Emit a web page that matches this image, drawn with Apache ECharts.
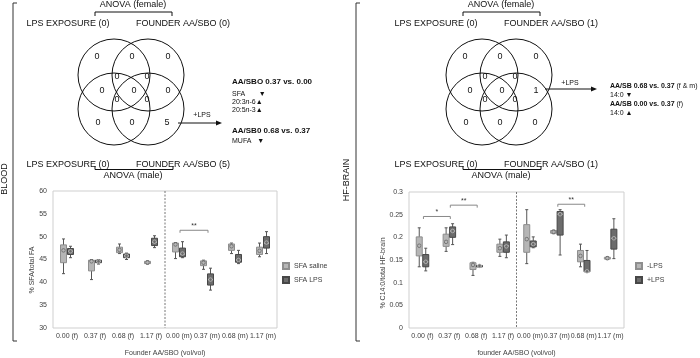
<!DOCTYPE html>
<html>
<head>
<meta charset="utf-8">
<script src="https://cdn.jsdelivr.net/npm/echarts@6/dist/echarts.min.js"></script>
<style>
  html, body { margin: 0; padding: 0; background: #fff; }
  #main { width: 700px; height: 358px; }
</style>
</head>
<body>
<div id="main"></div>
<script>
const FONT = '"Liberation Sans", Arial, sans-serif'

const categories = ['0.00 (f)', '0.37 (f)', '0.68 (f)', '1.17 (f)', '0.00 (m)', '0.37 (m)', '0.68 (m)', '1.17 (m)']

// each row: [min, q1, median, q3, max, mean]
const sfaSaline = [
  [41.9, 44.3, 47.0, 48.2, 49.5, 47.0],
  [40.6, 42.5, 44.5, 44.85, 45.0, 44.6],
  [46.3, 46.5, 47.1, 47.7, 48.4, 47.1],
  [44.0, 44.1, 44.35, 44.6, 44.7, 44.35],
  [45.2, 46.65, 48.3, 48.6, 48.7, 48.3],
  [42.85, 43.65, 44.3, 44.7, 44.85, 44.3],
  [46.3, 47.0, 47.9, 48.4, 48.6, 47.9],
  [45.6, 46.1, 46.8, 47.7, 48.6, 46.9]
]
const sfaLps = [
  [45.4, 46.1, 46.8, 47.4, 47.9, 46.8],
  [44.0, 44.3, 44.6, 44.85, 45.0, 44.6],
  [45.0, 45.4, 45.8, 46.2, 46.4, 45.8],
  [47.6, 48.05, 48.8, 49.65, 50.2, 48.9],
  [45.4, 45.6, 46.2, 47.5, 48.9, 46.3],
  [38.3, 39.4, 40.6, 41.85, 43.1, 40.6],
  [44.1, 44.4, 44.9, 46.1, 47.0, 44.9],
  [46.3, 47.5, 48.6, 50.0, 51.1, 48.7]
]
const c14Minus = [
  [0.135, 0.159, 0.181, 0.201, 0.221, 0.1815],
  [0.169, 0.180, 0.19, 0.207, 0.221, 0.19],
  [0.116, 0.129, 0.139, 0.144, 0.145, 0.139],
  [0.158, 0.167, 0.175, 0.185, 0.196, 0.176],
  [0.142, 0.167, 0.196, 0.228, 0.261, 0.196],
  [0.208, 0.209, 0.212, 0.215, 0.216, 0.212],
  [0.135, 0.146, 0.159, 0.171, 0.185, 0.159],
  [0.151, 0.152, 0.154, 0.156, 0.157, 0.154]
]
const c14Plus = [
  [0.126, 0.135, 0.146, 0.162, 0.176, 0.146],
  [0.184, 0.200, 0.214, 0.223, 0.230, 0.214],
  [0.135, 0.136, 0.137, 0.138, 0.139, 0.137],
  [0.155, 0.167, 0.181, 0.19, 0.205, 0.18],
  [0.177, 0.179, 0.185, 0.192, 0.201, 0.185],
  [0.161, 0.205, 0.251, 0.257, 0.261, 0.251],
  [0.124, 0.124, 0.125, 0.149, 0.171, 0.125],
  [0.153, 0.174, 0.198, 0.218, 0.241, 0.198]
]

// significance brackets: [from category, to category, height]
const sfaSig = [[4, 5, 51.4]]
const sfaSigMarks = ['**']
const c14Sig = [[0, 1, 0.246], [1, 2, 0.271], [5, 6, 0.273]]
const c14SigMarks = ['*', '**', '**']

// venn counts, region order: top row, upper triples, middle row, lower triples, bottom row
const bloodVenn = [0, 0, 0, 0, 0, 0, 0, 0, 0, 0, 0, 0, 5]
const brainVenn = [0, 0, 0, 0, 0, 0, 0, 1, 0, 0, 0, 0, 0]
const bloodVennLabels = ['LPS EXPOSURE (0)', 'FOUNDER AA/SBO (0)', 'LPS EXPOSURE (0)', 'FOUNDER AA/SBO (5)']
const brainVennLabels = ['LPS EXPOSURE (0)', 'FOUNDER AA/SBO (1)', 'LPS EXPOSURE (0)', 'FOUNDER AA/SBO (1)']

const countPos = [
  [97, 57], [132, 57], [168, 57],
  [117, 77], [147, 77],
  [102, 91], [134, 91], [168, 91],
  [117, 100], [147, 100],
  [98, 123], [132, 123], [167, 123]
]

function txt (x, y, text, size, opts) {
  opts = opts || {}
  const align = opts.align || 'center'
  return {
    type: 'text', x: x, y: y, rotation: opts.rotation || 0,
    style: {
      text: text, fontSize: size, fontFamily: FONT, fill: opts.fill || '#111',
      fontWeight: opts.bold ? 'bold' : 'normal',
      align: align, verticalAlign: 'middle', textAlign: align, textVerticalAlign: 'middle',
      rich: opts.rich
    }
  }
}

function venn (ox, counts, labels) {
  const els = []
  const centers = [[114, 75], [148, 75], [114, 109], [148, 109]]
  centers.forEach(c => {
    els.push({ type: 'circle', shape: { cx: c[0] + ox, cy: c[1], r: 36 }, style: { fill: 'none', stroke: '#111', lineWidth: 1 } })
  })
  countPos.forEach((p, i) => els.push(txt(p[0] + ox, p[1], String(counts[i]), 9)))
  els.push(txt(68 + ox, 24, labels[0], 9))
  els.push(txt(183 + ox, 24, labels[1], 9))
  els.push(txt(68 + ox, 165, labels[2], 9))
  els.push(txt(183 + ox, 165, labels[3], 9))
  els.push(txt(133 + ox, 4.5, 'ANOVA (female)', 9))
  els.push(txt(133 + ox, 176, 'ANOVA (male)', 9))
  els.push({ type: 'polyline', shape: { points: [[95 + ox, 16], [95 + ox, 12], [172 + ox, 12], [172 + ox, 16]] }, style: { fill: 'none', stroke: '#111', lineWidth: 1 } })
  els.push({ type: 'polyline', shape: { points: [[95 + ox, 166], [95 + ox, 169.5], [173 + ox, 169.5], [173 + ox, 166]] }, style: { fill: 'none', stroke: '#111', lineWidth: 1 } })
  return els
}

function arrow (x1, x2, y) {
  return [
    { type: 'line', shape: { x1: x1, y1: y, x2: x2 - 5, y2: y }, style: { stroke: '#111', lineWidth: 1 } },
    { type: 'polygon', shape: { points: [[x2, y], [x2 - 6, y - 2.5], [x2 - 6, y + 2.5]] }, style: { fill: '#111' } }
  ]
}

const richLeft = {
  r: { fontSize: 7, fontFamily: FONT, fill: '#111' },
  i: { fontSize: 7, fontStyle: 'italic', fontFamily: FONT, fill: '#111' }
}
const richRight = {
  b: { fontSize: 7, fontWeight: 'bold', fontFamily: FONT, fill: '#111' },
  r: { fontSize: 7, fontFamily: FONT, fill: '#111' }
}

const graphics = [].concat(
  // side brackets and panel titles
  { type: 'polyline', shape: { points: [[17, 3], [13, 3], [13, 341], [17, 341]] }, style: { fill: 'none', stroke: '#333', lineWidth: 1 } },
  { type: 'polyline', shape: { points: [[360, 3], [356, 3], [356, 341], [360, 341]] }, style: { fill: 'none', stroke: '#333', lineWidth: 1 } },
  txt(5, 179, 'BLOOD', 9, { rotation: Math.PI / 2 }),
  txt(347, 180, 'HF-BRAIN', 9, { rotation: Math.PI / 2 }),
  venn(0, bloodVenn, bloodVennLabels),
  venn(368, brainVenn, brainVennLabels),
  arrow(178, 222, 123),
  txt(202, 115, '+LPS', 7),
  arrow(545, 597, 89),
  txt(570, 83, '+LPS', 7),
  // blood findings
  txt(232, 82, 'AA/SBO 0.37 vs. 0.00', 8, { align: 'left', bold: true }),
  txt(232, 94, '{r|SFA       ▼}', 7, { align: 'left', rich: richLeft }),
  txt(232, 102, '{r|20:3}{i|n}{r|-6▲}', 7, { align: 'left', rich: richLeft }),
  txt(232, 110, '{r|20:5}{i|n}{r|-3▲}', 7, { align: 'left', rich: richLeft }),
  txt(232, 131, 'AA/SB0 0.68 vs. 0.37', 8, { align: 'left', bold: true }),
  txt(232, 141, '{r|MUFA   ▼}', 7, { align: 'left', rich: richLeft }),
  // brain findings
  txt(610, 86, '{b|AA/SB 0.68 vs. 0.37}{r| (f & m)}', 7, { align: 'left', rich: richRight }),
  txt(610, 95, '{r|14:0 ▼}', 7, { align: 'left', rich: richRight }),
  txt(610, 104, '{b|AA/SB 0.00 vs. 0.37}{r| (f)}', 7, { align: 'left', rich: richRight }),
  txt(610, 113, '{r|14:0 ▲}', 7, { align: 'left', rich: richRight }),
  // y axis titles
  txt(32, 270, '% SFA/total FA', 7, { rotation: Math.PI / 2, fill: '#404040' }),
  txt(383, 273, '% C14:0/total HF-brain', 7, { rotation: Math.PI / 2, fill: '#404040' })
)

const boxData = rows => rows.map((r, i) => [i].concat(r))

function boxItem (shift, fill, stroke, meanStroke) {
  return function (params, api) {
    const i = api.value(0)
    const y = k => api.coord([i, api.value(k)])[1]
    const cx = api.coord([i, api.value(3)])[0] + shift
    const w = 6
    const yMin = y(1), yQ1 = y(2), yMed = y(3), yQ3 = y(4), yMax = y(5), yMean = y(6)
    const line = (x1, y1, x2, y2, c) => ({ type: 'line', shape: { x1, y1, x2, y2 }, style: { stroke: c, lineWidth: 1 } })
    return {
      type: 'group',
      children: [
        line(cx, yMax, cx, yMin, '#555'),
        line(cx - 1.5, yMax, cx + 1.5, yMax, '#555'),
        line(cx - 1.5, yMin, cx + 1.5, yMin, '#555'),
        { type: 'rect', shape: { x: cx - w / 2, y: yQ3, width: w, height: Math.max(yQ1 - yQ3, 1.5) }, style: { fill: fill, stroke: stroke, lineWidth: 1 } },
        line(cx - w / 2 + 0.5, yMed, cx + w / 2 - 0.5, yMed, '#d6d6d6'),
        { type: 'circle', shape: { cx: cx, cy: yMean, r: 1.8 }, style: { fill: fill, stroke: meanStroke, lineWidth: 0.8 } }
      ]
    }
  }
}

function divider (params, api) {
  const top = api.coord([api.value(0), api.value(2)])
  const bottom = api.coord([api.value(0), api.value(1)])
  const x = top[0] + api.size([1, 0])[0] / 2
  return { type: 'line', shape: { x1: x, y1: top[1], x2: x, y2: bottom[1] }, style: { stroke: '#777', lineWidth: 1, lineDash: [2, 1.5] } }
}

function sigItem (marks) {
  return function (params, api) {
    const a = api.coord([api.value(0), api.value(2)])
    const b = api.coord([api.value(1), api.value(2)])
    const x1 = a[0] + 1, x2 = b[0] + 1, yy = a[1]
    return {
      type: 'group',
      children: [
        { type: 'polyline', shape: { points: [[x1, yy + 2.5], [x1, yy], [x2, yy], [x2, yy + 2.5]] }, style: { fill: 'none', stroke: '#888', lineWidth: 1 } },
        { type: 'text', style: { text: marks[params.dataIndex], x: (x1 + x2) / 2, y: yy - 0.5, fontSize: 7, fontFamily: FONT, fill: '#333', align: 'center', verticalAlign: 'bottom', textAlign: 'center', textVerticalAlign: 'bottom' } }
      ]
    }
  }
}

const xAxisBase = {
  type: 'category',
  data: categories,
  axisLine: { show: false },
  axisTick: { show: false },
  axisLabel: { fontSize: 7, color: '#404040', margin: 5, interval: 0 },
  nameLocation: 'middle',
  nameGap: 22,
  nameTextStyle: { fontSize: 7, color: '#404040' }
}
const yAxisBase = {
  type: 'value',
  splitLine: { show: false },
  axisLine: { show: false },
  axisTick: { show: false },
  axisLabel: { fontSize: 7, color: '#404040', margin: 6 }
}
const legendBase = {
  orient: 'vertical',
  padding: 0,
  icon: 'rect',
  itemWidth: 6,
  itemHeight: 6,
  itemGap: 6,
  textStyle: { fontSize: 7, color: '#404040' }
}

const LIGHT = '#b6b6b6', LIGHT_EDGE = '#8e8e8e', DARK = '#6c6c6c', DARK_EDGE = '#474747'

const option = {
  animation: false,
  textStyle: { fontFamily: FONT },
  grid: [
    { left: 53, top: 191, width: 224, height: 140, show: true, borderColor: '#cfcfcf', borderWidth: 1 },
    { left: 409, top: 192, width: 215, height: 139, show: true, borderColor: '#cfcfcf', borderWidth: 1 }
  ],
  xAxis: [
    Object.assign({}, xAxisBase, { gridIndex: 0, name: 'Founder AA/SBO (vol/vol)' }),
    Object.assign({}, xAxisBase, { gridIndex: 1, name: 'founder AA/SBO (vol/vol)' })
  ],
  yAxis: [
    Object.assign({}, yAxisBase, { gridIndex: 0, min: 30, max: 60, interval: 5 }),
    Object.assign({}, yAxisBase, { gridIndex: 1, min: 0, max: 0.3, interval: 0.05 })
  ],
  legend: [
    Object.assign({}, legendBase, { data: ['SFA saline', 'SFA LPS'], left: 282, top: 262 }),
    Object.assign({}, legendBase, { data: ['-LPS', '+LPS'], left: 635, top: 262 })
  ],
  graphic: graphics,
  series: [
    { type: 'custom', silent: true, xAxisIndex: 0, yAxisIndex: 0, data: [[3, 30, 60]], renderItem: divider, z: 1 },
    { type: 'custom', silent: true, xAxisIndex: 1, yAxisIndex: 1, data: [[3, 0, 0.3]], renderItem: divider, z: 1 },
    { type: 'custom', name: 'SFA saline', xAxisIndex: 0, yAxisIndex: 0, data: boxData(sfaSaline), renderItem: boxItem(-3.5, LIGHT, LIGHT_EDGE, '#666'), itemStyle: { color: LIGHT, borderColor: LIGHT_EDGE, borderWidth: 1 }, z: 3 },
    { type: 'custom', name: 'SFA LPS', xAxisIndex: 0, yAxisIndex: 0, data: boxData(sfaLps), renderItem: boxItem(3.5, DARK, DARK_EDGE, '#bbb'), itemStyle: { color: DARK, borderColor: DARK_EDGE, borderWidth: 1 }, z: 3 },
    { type: 'custom', name: '-LPS', xAxisIndex: 1, yAxisIndex: 1, data: boxData(c14Minus), renderItem: boxItem(-3.2, LIGHT, LIGHT_EDGE, '#666'), itemStyle: { color: LIGHT, borderColor: LIGHT_EDGE, borderWidth: 1 }, z: 3 },
    { type: 'custom', name: '+LPS', xAxisIndex: 1, yAxisIndex: 1, data: boxData(c14Plus), renderItem: boxItem(3.3, DARK, DARK_EDGE, '#bbb'), itemStyle: { color: DARK, borderColor: DARK_EDGE, borderWidth: 1 }, z: 3 },
    { type: 'custom', silent: true, xAxisIndex: 0, yAxisIndex: 0, data: sfaSig, renderItem: sigItem(sfaSigMarks), z: 4 },
    { type: 'custom', silent: true, xAxisIndex: 1, yAxisIndex: 1, data: c14Sig, renderItem: sigItem(c14SigMarks), z: 4 }
  ]
}

const chart = echarts.init(document.getElementById('main'))
chart.setOption(option)
</script>
</body>
</html>
